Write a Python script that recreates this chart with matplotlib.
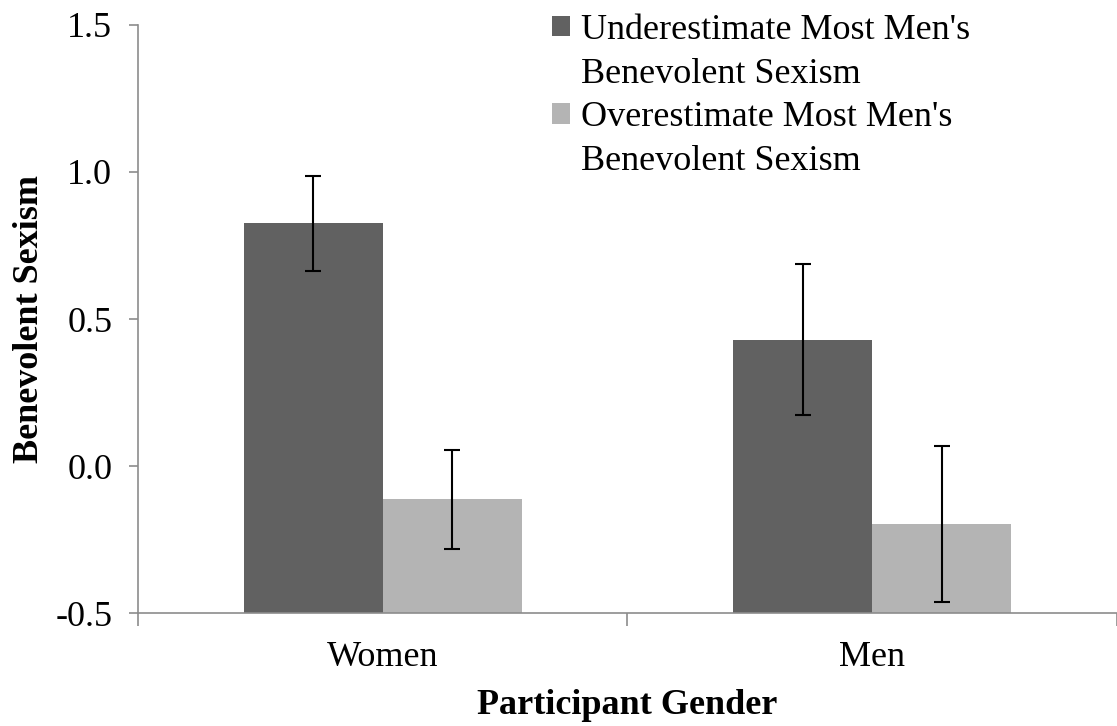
import matplotlib.pyplot as plt
from matplotlib.patches import Patch
import numpy as np

# data
groups = ["Women", "Men"]
series = ["Underestimate Most Men's\nBenevolent Sexism",
          "Overestimate Most Men's\nBenevolent Sexism"]
under_vals = [0.825, 0.430]
under_err = [0.162, 0.256]
over_vals = [-0.113, -0.197]
over_err = [0.168, 0.265]
yticks = [-0.5, 0.0, 0.5, 1.0, 1.5]
ytick_labels = ["-0.5", "0.0", "0.5", "1.0", "1.5"]

plt.rcParams['font.family'] = ['Liberation Serif', 'DejaVu Serif']
axis_grey = "#8c8c8c"
dark, light = "#616161", "#b4b4b4"
fs = 26

fig = plt.figure(figsize=(11.17, 7.26), dpi=100)
ax = fig.add_axes([0.1235, 0.1556, 0.8765, 0.81])

x = np.arange(len(groups))
w = 0.284
base = yticks[0]
ax.bar(x - w / 2, np.array(under_vals) - base, w, bottom=base, color=dark, zorder=2)
ax.bar(x + w / 2, np.array(over_vals) - base, w, bottom=base, color=light, zorder=2)
ax.errorbar(x - w / 2, under_vals, yerr=under_err, fmt="none", ecolor="black",
            elinewidth=1.5, capsize=6, capthick=1.5, zorder=3)
ax.errorbar(x + w / 2, over_vals, yerr=over_err, fmt="none", ecolor="black",
            elinewidth=1.5, capsize=6, capthick=1.5, zorder=3)

ax.set_ylim(-0.5, 1.5)
ax.set_xlim(-0.5, 1.485)
ax.set_yticks(yticks)
ax.set_yticklabels(ytick_labels, fontsize=fs)
ax.set_xticks(x)
ax.set_xticklabels(groups, fontsize=fs)
ax.set_xticks([-0.5, 0.5, 1.5], minor=True)
ax.tick_params(axis="x", which="major", length=0, pad=20)
ax.tick_params(axis="x", which="minor", length=9, color=axis_grey, width=1.2)
ax.tick_params(axis="y", length=6.5, color=axis_grey, width=1.2, pad=12)

for s in ["top", "right"]:
    ax.spines[s].set_visible(False)
for s in ["left", "bottom"]:
    ax.spines[s].set_color(axis_grey)
    ax.spines[s].set_linewidth(1.2)

ax.set_ylabel("Benevolent Sexism", fontsize=fs, fontweight="bold", labelpad=7)
ax.set_xlabel("Participant Gender", fontsize=fs, fontweight="bold", labelpad=11)

# legend: square sits beside the first line of each two-line label
handles, labels = [], []
for lab, col in zip(series, [dark, light]):
    first, second = lab.split("\n")
    handles += [Patch(facecolor=col), Patch(facecolor="none", edgecolor="none")]
    labels += [first, second]
ax.legend(handles, labels, loc="upper left", bbox_to_anchor=(0.478, 1.006),
          bbox_transform=fig.transFigure, frameon=False, fontsize=fs, borderpad=0,
          handlelength=0.5, handleheight=0.5, handletextpad=0.3, labelspacing=0.3)

fig.savefig("out.png", dpi=100)
